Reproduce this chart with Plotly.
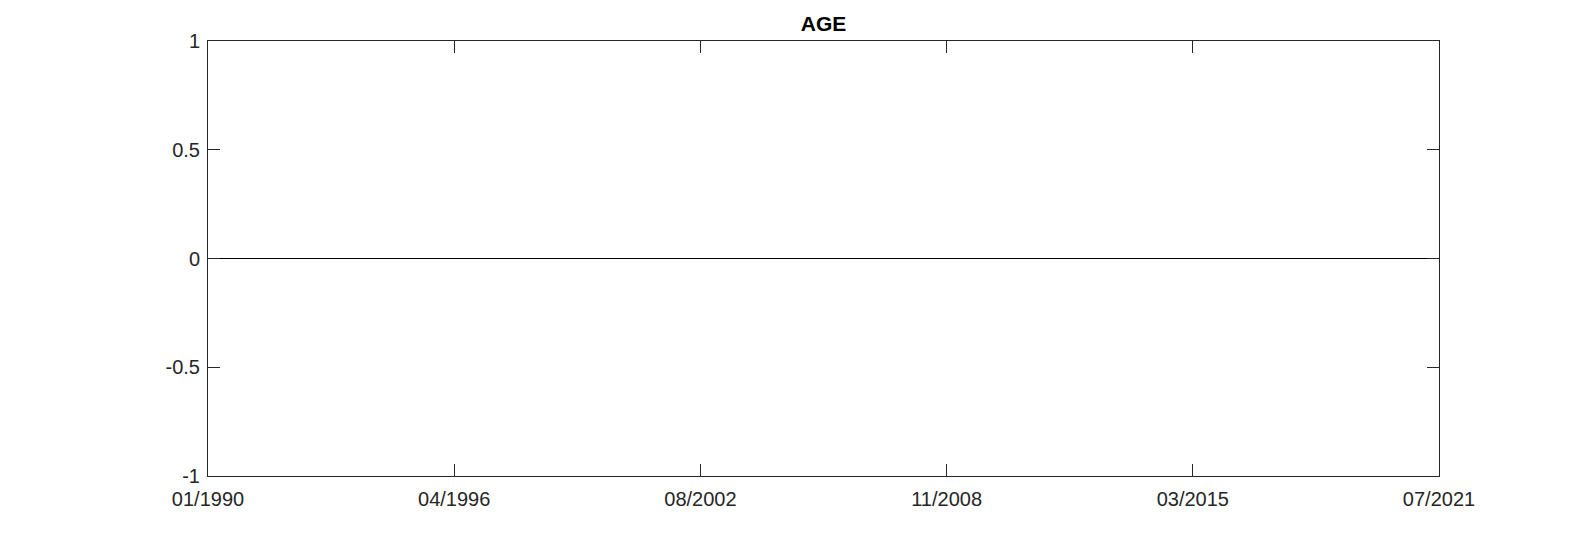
import pandas as pd
import plotly.graph_objects as go

# series: the AGE line is flat at zero over the whole sample
dates = ['1990-01-01', '2021-07-01']
age = [0, 0]

# date tick labels, evenly spaced across the sample (MATLAB datetick style)
x_ticktext = ['01/1990', '04/1996', '08/2002', '11/2008', '03/2015', '07/2021']
y_tickvals = [-1, -0.5, 0, 0.5, 1]
y_ticktext = ['-1', '-0.5', '0', '0.5', '1']

start = pd.Timestamp(dates[0])
end = pd.Timestamp(dates[-1])
step = (end - start) / (len(x_ticktext) - 1)
x_tickvals = [start + i * step for i in range(len(x_ticktext))]

axis_col = '#262626'
ml, mr, mt, mb = 200, 160, 33, 68

fig = go.Figure()
fig.add_trace(go.Scatter(
    x=pd.to_datetime(dates),
    y=age,
    mode='lines',
    line=dict(color='black', width=1.2),
    showlegend=False,
))

fig.update_layout(
    width=1591,
    height=536,
    margin=dict(l=ml, r=mr, t=mt, b=mb),
    plot_bgcolor='white',
    paper_bgcolor='white',
    font=dict(family='Liberation Sans, Arial, sans-serif', size=20, color=axis_col),
    title=dict(
        text='<b>AGE</b>',
        x=(ml + 1591 - mr) / 2 / 1591,
        xanchor='center',
        y=1 - 16 / 536,
        yanchor='middle',
        font=dict(size=21, color='black'),
    ),
)

fig.update_xaxes(
    type='date',
    range=[start, end],
    tickvals=x_tickvals,
    ticktext=x_ticktext,
    ticks='inside',
    ticklen=12,
    tickwidth=1,
    tickcolor=axis_col,
    ticklabelstandoff=5,
    showline=True,
    linecolor=axis_col,
    linewidth=1,
    mirror='allticks',
    showgrid=False,
    zeroline=False,
)
fig.update_yaxes(
    range=[-1, 1],
    tickvals=y_tickvals,
    ticktext=y_ticktext,
    ticks='inside',
    ticklen=12,
    tickwidth=1,
    tickcolor=axis_col,
    ticklabelstandoff=3,
    showline=True,
    linecolor=axis_col,
    linewidth=1,
    mirror='allticks',
    showgrid=False,
    zeroline=False,
)

fig.write_html("out.html")
